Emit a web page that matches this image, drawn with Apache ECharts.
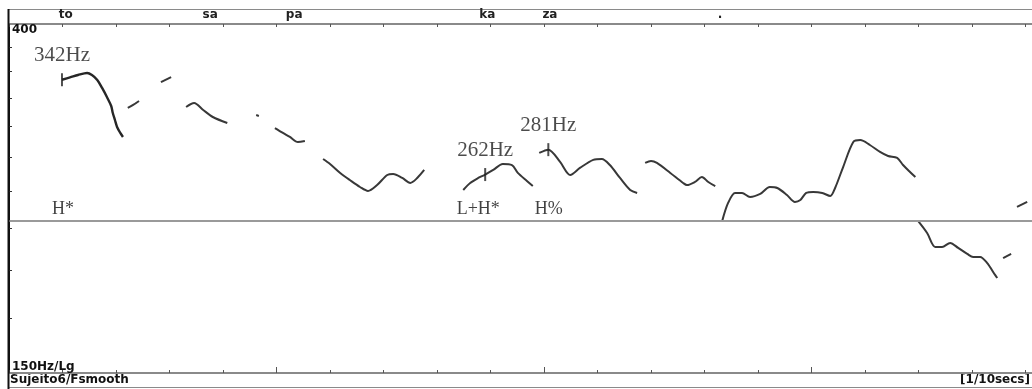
<!DOCTYPE html>
<html>
<head>
<meta charset="utf-8">
<script src="https://cdn.jsdelivr.net/npm/echarts@6/dist/echarts.min.js"></script>
<style>
html,body{margin:0;padding:0;background:#fff}
#main{width:1032px;height:389px}
</style>
</head>
<body>
<div id="main"></div>
<script>
var myChart = echarts.init(document.getElementById('main'));

// time axis in 1/10 secs, F0 in Hz (log scale 150..400)
var contour1 = [[0.99,342],[1.14,344.2],[1.29,346.6],[1.46,348.6],[1.55,346.6],[1.65,341.8],[1.74,334.2],[1.83,325.8],[1.91,317.7],[1.94,311.5],[1.98,305.4],[2.02,299.5],[2.08,294.5],[2.13,291.2]];
var contour2 = [[2.22,315.9],[2.32,318.6],[2.43,322.2]];
var contour3 = [[2.84,339.8],[3.03,344.6]];
var contour4 = [[3.31,316.8],[3.46,320.4],[3.63,314.1],[3.81,308],[4.08,302.8]];
var contour5 = [[4.62,309.7],[4.67,308.9]];
var contour6 = [[4.97,298.6],[5.12,294.5],[5.25,291.2],[5.40,287.1],[5.53,287.9]];
var contour7 = [[5.87,273.7],[6.00,269.9],[6.19,263.2],[6.37,258],[6.56,253],[6.71,250.2],[6.88,254.4],[7.07,261.7],[7.18,262.4],[7.35,259.5],[7.50,255.9],[7.63,259.5],[7.76,265.4]];
var contour8 = [[8.49,250.9],[8.62,255.9],[8.77,259.5],[8.90,262],[9.05,265.4],[9.23,269.9],[9.40,269.1],[9.51,263.2],[9.68,257.3],[9.79,253.7]];
var contour9 = [[9.91,278.4],[10.08,281],[10.30,271.5],[10.49,261.7],[10.67,266.9],[10.92,273],[11.08,273.7],[11.23,269.1],[11.42,259.5],[11.61,250.9],[11.74,248.8]];
var contour10 = [[11.89,270.7],[12.00,272.2],[12.11,270.7],[12.36,263.2],[12.60,255.9],[12.67,254.4],[12.82,256.6],[12.95,260.2],[13.07,256.6],[13.20,253.7]];
var contour11 = [[13.33,230],[13.44,241.9],[13.57,248.8],[13.70,248.8],[13.85,246],[14.04,248.1],[14.22,253],[14.36,252.3],[14.54,247.4],[14.69,242.6],[14.79,243.9],[14.90,248.8],[15.03,249.5],[15.20,248.8],[15.35,246.7],[15.44,252.3],[15.59,267.6],[15.78,287.1],[15.91,288.7],[16.09,284.7],[16.28,279.2],[16.43,276],[16.60,274.5],[16.71,269.1],[16.84,263.9],[16.94,260.2]];
var contour12 = [[16.99,230],[17.16,222.3],[17.31,213.8],[17.44,213.8],[17.59,216.2],[17.74,213.2],[17.91,209.6],[18.02,207.8],[18.15,207.8],[18.28,204.4],[18.43,197.6],[18.47,195.9]];
var contour13 = [[18.58,207.2],[18.73,209.6]];
var contour14 = [[18.84,239.2],[19.03,242.6]];
var contours = [contour1, contour2, contour3, contour4, contour5, contour6, contour7, contour8, contour9, contour10, contour11, contour12, contour13, contour14];

// annotated pitch targets
var peakTimes = [0.99, 8.90, 10.08];
var peakHz = [342, 262, 281];

// tonal labels
var toneNames = ['H*', 'L+H*', 'H%'];
var toneTimes = [1.01, 8.77, 10.09];
var refLevel = 230;

// syllables on top strip
var syllables = ['to', 'sa', 'pa', 'ka', 'za', '.'];
var syllableTimes = [1.06, 3.76, 5.33, 8.94, 10.11, 13.29];

var yTicks = [175, 200, 225, 250, 275, 300, 325, 350, 375];
var yLabels = [150, 400];
var majorTicks = [5, 10, 15];

var axisFont = 'DejaVu Sans';
var serifFont = 'Liberation Serif';

var series = contours.map(function (seg, i) {
	return {
		type: 'line',
		data: seg,
		showSymbol: false,
		smooth: 0.3,
		lineStyle: { color: i == 0 ? '#262626' : '#383838', width: i == 0 ? 2.4 : 2 },
		silent: true,
		z: 3
	};
});

series[0].markLine = {
	silent: true,
	symbol: 'none',
	label: { show: false },
	lineStyle: { color: '#9a9a9a', width: 2, type: 'solid' },
	data: [{ yAxis: refLevel }]
};

series.push({
	type: 'scatter',
	data: peakTimes.map(function (t, i) { return [t, peakHz[i]]; }),
	symbol: 'rect',
	symbolSize: [2, 13],
	itemStyle: { color: '#222' },
	label: {
		show: true,
		position: 'top',
		distance: 7,
		fontFamily: serifFont,
		fontSize: 21,
		color: '#1e1e1e',
		formatter: function (p) { return p.value[1] + 'Hz'; }
	},
	z: 4
});

series.push({
	type: 'scatter',
	data: toneTimes.map(function (t) { return [t, refLevel]; }),
	symbolSize: 0,
	label: {
		show: true,
		position: 'top',
		distance: 3,
		fontFamily: serifFont,
		fontSize: 18,
		color: '#111',
		formatter: function (p) { return toneNames[p.dataIndex]; }
	},
	z: 4
});

var option = {
	backgroundColor: '#fff',
	animation: false,
	grid: { left: 9, right: 0, top: 24, bottom: 16 },
	xAxis: [{
		type: 'value',
		position: 'bottom',
		min: 0,
		max: 19.12,
		interval: 1,
		axisLine: { lineStyle: { color: '#8a8a8a', width: 2 } },
		axisTick: { inside: true, length: 3, lineStyle: { color: '#555' } },
		axisLabel: { show: false },
		splitLine: { show: false }
	}, {
		type: 'value',
		position: 'top',
		min: 0,
		max: 19.12,
		interval: 1,
		axisLine: { lineStyle: { color: '#8a8a8a', width: 2 } },
		axisTick: { inside: true, length: 3, lineStyle: { color: '#555' } },
		axisLabel: {
			customValues: syllableTimes,
			margin: 3,
			fontFamily: axisFont,
			fontWeight: 'bold',
			fontSize: 12,
			color: '#222',
			formatter: function (v) { return syllables[syllableTimes.indexOf(v)]; }
		},
		splitLine: { show: false }
	}, {
		type: 'value',
		position: 'bottom',
		min: 0,
		max: 19.12,
		axisLine: { show: false },
		axisTick: { inside: true, length: 6, customValues: majorTicks, lineStyle: { color: '#555' } },
		axisLabel: { show: false },
		splitLine: { show: false }
	}],
	yAxis: {
		type: 'log',
		logBase: 10,
		min: 150,
		max: 400,
		axisLine: { show: true, lineStyle: { color: '#111', width: 2 } },
		axisTick: { show: true, inside: true, length: 3, customValues: yTicks, lineStyle: { color: '#333' } },
		axisLabel: {
			inside: true,
			margin: 3,
			customValues: yLabels,
			verticalAlignMinLabel: 'bottom',
			verticalAlignMaxLabel: 'top',
			fontFamily: axisFont,
			fontWeight: 'bold',
			fontSize: 12,
			color: '#111',
			formatter: function (v) { return v == 150 ? '150Hz/Lg' : String(v); }
		},
		splitLine: { show: false }
	},
	graphic: [
		{ type: 'line', shape: { x1: 8, y1: 9.5, x2: 1032, y2: 9.5 }, style: { stroke: '#8a8a8a', lineWidth: 1 }, silent: true },
		{ type: 'line', shape: { x1: 8, y1: 387.5, x2: 1032, y2: 387.5 }, style: { stroke: '#8a8a8a', lineWidth: 1 }, silent: true },
		{ type: 'line', shape: { x1: 8.5, y1: 9, x2: 8.5, y2: 389 }, style: { stroke: '#111', lineWidth: 2 }, silent: true, z: 10 },
		{ type: 'text', left: 10, top: 374, style: { text: 'Sujeito6/Fsmooth', font: 'bold 12px "DejaVu Sans"', fill: '#111' }, silent: true },
		{ type: 'text', right: 2, top: 374, style: { text: '[1/10secs]', font: 'bold 12px "DejaVu Sans"', fill: '#111' }, silent: true }
	],
	series: series
};

myChart.setOption(option);
</script>
</body>
</html>
